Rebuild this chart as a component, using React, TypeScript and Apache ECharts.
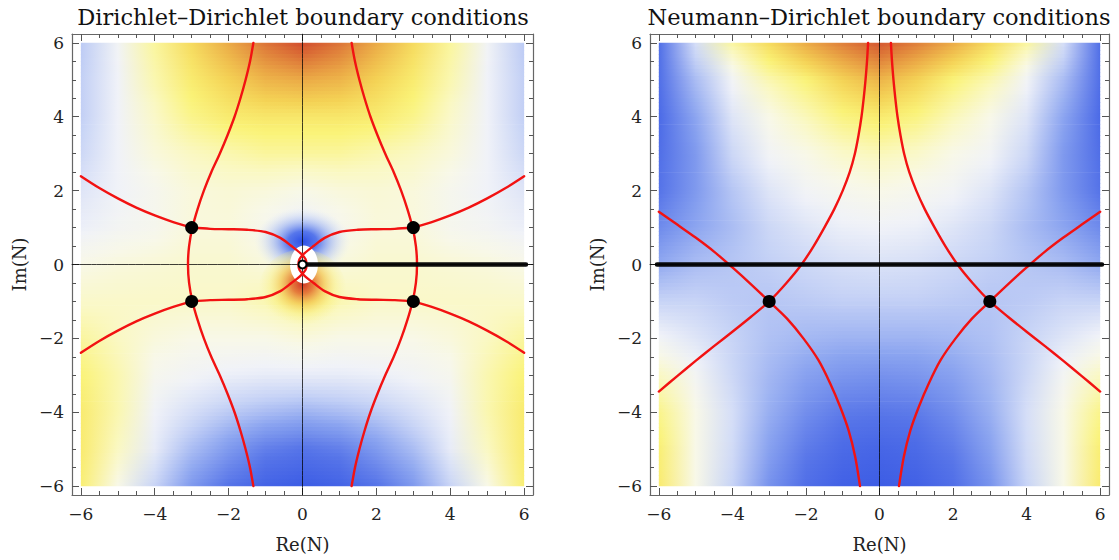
import React, { useEffect, useRef } from "react";
import * as echarts from "echarts";

const FONT = '"DejaVu Serif", serif';

// grid coordinates of the sampled colour field
const fieldXs = [-6, -5, -4, -3, -2, -1, 0, 1, 2, 3, 4, 5, 6];
const fieldYs = [6, 5, 4, 3, 2, 1, 0, -1, -2, -3, -4, -5, -6];

// Dirichlet-Dirichlet field (rows y=6 .. -6, columns x=-6 .. 6), 0=blue .. 1=red
const ddField = [
  [0.33, 0.45, 0.6, 0.7, 0.8, 0.9, 0.97, 0.9, 0.8, 0.7, 0.6, 0.45, 0.33],
  [0.34, 0.44, 0.58, 0.66, 0.72, 0.78, 0.8, 0.78, 0.72, 0.66, 0.58, 0.44, 0.34],
  [0.34, 0.44, 0.55, 0.62, 0.66, 0.67, 0.67, 0.67, 0.66, 0.62, 0.55, 0.44, 0.34],
  [0.36, 0.44, 0.52, 0.56, 0.58, 0.6, 0.6, 0.6, 0.58, 0.56, 0.52, 0.44, 0.36],
  [0.4, 0.44, 0.48, 0.52, 0.53, 0.52, 0.5, 0.52, 0.53, 0.52, 0.48, 0.44, 0.4],
  [0.43, 0.46, 0.48, 0.52, 0.52, 0.48, 0.42, 0.48, 0.52, 0.52, 0.48, 0.46, 0.43],
  [0.5, 0.52, 0.53, 0.54, 0.54, 0.52, 0.48, 0.52, 0.54, 0.54, 0.53, 0.52, 0.5],
  [0.55, 0.55, 0.55, 0.55, 0.55, 0.58, 0.62, 0.58, 0.55, 0.55, 0.55, 0.55, 0.55],
  [0.6, 0.56, 0.52, 0.5, 0.5, 0.5, 0.52, 0.5, 0.5, 0.5, 0.52, 0.56, 0.6],
  [0.64, 0.58, 0.48, 0.45, 0.43, 0.42, 0.42, 0.42, 0.43, 0.45, 0.48, 0.58, 0.64],
  [0.66, 0.58, 0.44, 0.38, 0.33, 0.3, 0.28, 0.3, 0.33, 0.38, 0.44, 0.58, 0.66],
  [0.66, 0.56, 0.42, 0.3, 0.22, 0.15, 0.12, 0.15, 0.22, 0.3, 0.42, 0.56, 0.66],
  [0.65, 0.5, 0.35, 0.22, 0.12, 0.05, 0.02, 0.05, 0.12, 0.22, 0.35, 0.5, 0.65],
];

// Neumann-Dirichlet field
const ndField = [
  [0.1, 0.38, 0.6, 0.7, 0.8, 0.88, 0.95, 0.88, 0.8, 0.7, 0.6, 0.38, 0.1],
  [0.1, 0.3, 0.45, 0.58, 0.64, 0.72, 0.78, 0.72, 0.64, 0.58, 0.45, 0.3, 0.1],
  [0.08, 0.25, 0.4, 0.5, 0.57, 0.63, 0.66, 0.63, 0.57, 0.5, 0.4, 0.25, 0.08],
  [0.1, 0.22, 0.36, 0.45, 0.5, 0.55, 0.57, 0.55, 0.5, 0.45, 0.36, 0.22, 0.1],
  [0.12, 0.22, 0.32, 0.4, 0.45, 0.48, 0.5, 0.48, 0.45, 0.4, 0.32, 0.22, 0.12],
  [0.18, 0.25, 0.3, 0.36, 0.4, 0.43, 0.44, 0.43, 0.4, 0.36, 0.3, 0.25, 0.18],
  [0.26, 0.3, 0.32, 0.34, 0.36, 0.38, 0.39, 0.38, 0.36, 0.34, 0.32, 0.3, 0.26],
  [0.35, 0.35, 0.33, 0.32, 0.33, 0.34, 0.34, 0.34, 0.33, 0.32, 0.33, 0.35, 0.35],
  [0.45, 0.4, 0.35, 0.31, 0.29, 0.28, 0.28, 0.28, 0.29, 0.31, 0.35, 0.4, 0.45],
  [0.56, 0.46, 0.36, 0.29, 0.24, 0.21, 0.2, 0.21, 0.24, 0.29, 0.36, 0.46, 0.56],
  [0.62, 0.5, 0.38, 0.27, 0.19, 0.14, 0.13, 0.14, 0.19, 0.27, 0.38, 0.5, 0.62],
  [0.65, 0.5, 0.37, 0.24, 0.14, 0.08, 0.06, 0.08, 0.14, 0.24, 0.37, 0.5, 0.65],
  [0.66, 0.5, 0.35, 0.2, 0.1, 0.04, 0.02, 0.04, 0.1, 0.2, 0.35, 0.5, 0.66],
];

// Dirichlet-Dirichlet contour curves
const ddLeftVertical = [[-1.33, 6], [-1.42, 5.5], [-1.54, 5], [-1.68, 4.5], [-1.84, 4], [-2.03, 3.5], [-2.24, 3], [-2.47, 2.5], [-2.67, 2], [-2.84, 1.5], [-2.98, 1], [-3.07, 0.5], [-3.1, 0], [-3.07, -0.5], [-2.98, -1], [-2.84, -1.5], [-2.67, -2], [-2.47, -2.5], [-2.24, -3], [-2.03, -3.5], [-1.84, -4], [-1.68, -4.5], [-1.54, -5], [-1.42, -5.5], [-1.33, -6]];
const ddRightVertical = [[1.33, 6], [1.42, 5.5], [1.54, 5], [1.68, 4.5], [1.84, 4], [2.03, 3.5], [2.24, 3], [2.47, 2.5], [2.67, 2], [2.84, 1.5], [2.98, 1], [3.07, 0.5], [3.1, 0], [3.07, -0.5], [2.98, -1], [2.84, -1.5], [2.67, -2], [2.47, -2.5], [2.24, -3], [2.03, -3.5], [1.84, -4], [1.68, -4.5], [1.54, -5], [1.42, -5.5], [1.33, -6]];
const ddLeftUpperOuter = [[-6, 2.39], [-5.5, 2.07], [-5, 1.79], [-4.5, 1.54], [-4, 1.33], [-3.5, 1.15], [-3, 1]];
const ddLeftLowerOuter = [[-6, -2.39], [-5.5, -2.07], [-5, -1.79], [-4.5, -1.54], [-4, -1.33], [-3.5, -1.15], [-3, -1]];
const ddRightUpperOuter = [[6, 2.39], [5.5, 2.07], [5, 1.79], [4.5, 1.54], [4, 1.33], [3.5, 1.15], [3, 1]];
const ddRightLowerOuter = [[6, -2.39], [5.5, -2.07], [5, -1.79], [4.5, -1.54], [4, -1.33], [3.5, -1.15], [3, -1]];
const ddLeftInner = [[-3, 1], [-2.5, 0.965], [-2, 0.955], [-1.5, 0.94], [-1, 0.88], [-0.6, 0.72], [-0.3, 0.5], [-0.05, 0.3], [0.08, 0.15], [0.11, 0], [0.08, -0.15], [-0.05, -0.3], [-0.3, -0.5], [-0.6, -0.72], [-1, -0.88], [-1.5, -0.94], [-2, -0.955], [-2.5, -0.965], [-3, -1]];
const ddRightInner = [[3, 1], [2.5, 0.965], [2, 0.955], [1.5, 0.94], [1, 0.88], [0.6, 0.72], [0.3, 0.5], [0.05, 0.3], [-0.08, 0.15], [-0.11, 0], [-0.08, -0.15], [0.05, -0.3], [0.3, -0.5], [0.6, -0.72], [1, -0.88], [1.5, -0.94], [2, -0.955], [2.5, -0.965], [3, -1]];
const ddSaddles = [[-3, 1], [3, 1], [-3, -1], [3, -1]];
const ddPole = [[0, 0]];
const ddCut = [[0.1, 0], [6.05, 0]];

// Neumann-Dirichlet contour curves
const ndLeftA = [[-0.31, 6], [-0.34, 5.5], [-0.38, 5], [-0.43, 4.5], [-0.49, 4], [-0.57, 3.5], [-0.67, 3], [-0.81, 2.5], [-1.0, 2], [-1.23, 1.5], [-1.5, 1], [-1.79, 0.5], [-2.12, 0], [-2.53, -0.5], [-3, -1], [-3.5, -1.42], [-4, -1.82], [-4.5, -2.21], [-5, -2.61], [-5.5, -3.02], [-6, -3.44]];
const ndLeftB = [[-6, 1.43], [-5.5, 1.08], [-5, 0.73], [-4.5, 0.35], [-4, -0.08], [-3.5, -0.53], [-3, -1], [-2.52, -1.46], [-2.07, -2.0], [-1.66, -2.59], [-1.34, -3.22], [-1.07, -3.85], [-0.84, -4.49], [-0.66, -5.21], [-0.53, -6]];
const ndRightA = [[0.31, 6], [0.34, 5.5], [0.38, 5], [0.43, 4.5], [0.49, 4], [0.57, 3.5], [0.67, 3], [0.81, 2.5], [1.0, 2], [1.23, 1.5], [1.5, 1], [1.79, 0.5], [2.12, 0], [2.53, -0.5], [3, -1], [3.5, -1.42], [4, -1.82], [4.5, -2.21], [5, -2.61], [5.5, -3.02], [6, -3.44]];
const ndRightB = [[6, 1.43], [5.5, 1.08], [5, 0.73], [4.5, 0.35], [4, -0.08], [3.5, -0.53], [3, -1], [2.52, -1.46], [2.07, -2.0], [1.66, -2.59], [1.34, -3.22], [1.07, -3.85], [0.84, -4.49], [0.66, -5.21], [0.53, -6]];
const ndSaddles = [[-3, -1], [3, -1]];
const ndCut = [[-6.05, 0], [6.05, 0]];

// tick values
const majorTicks = [-6, -4, -2, 0, 2, 4, 6];
const minorTicks = [-5.5, -5, -4.5, -3.5, -3, -2.5, -1.5, -1, -0.5, 0.5, 1, 1.5, 2.5, 3, 3.5, 4.5, 5, 5.5];
const titles = ["Dirichlet\u2013Dirichlet boundary conditions", "Neumann\u2013Dirichlet boundary conditions"];

// colour map stops (value, rgb)
const cmapStops: [number, number[]][] = [
  [0.0, [55, 88, 228]],
  [0.12, [85, 115, 232]],
  [0.25, [140, 165, 240]],
  [0.35, [200, 212, 246]],
  [0.44, [240, 242, 248]],
  [0.5, [248, 248, 232]],
  [0.56, [250, 248, 195]],
  [0.64, [250, 243, 120]],
  [0.72, [244, 210, 85]],
  [0.8, [235, 170, 70]],
  [0.9, [220, 115, 55]],
  [1.0, [205, 58, 42]],
];

function cmap(v: number): string {
  const t = Math.max(0, Math.min(1, v));
  for (let i = 1; i < cmapStops.length; i++) {
    const [v1, c1] = cmapStops[i];
    const [v0, c0] = cmapStops[i - 1];
    if (t <= v1) {
      const f = (t - v0) / (v1 - v0);
      const c = c0.map((a, k) => Math.round(a + (c1[k] - a) * f));
      return `rgb(${c[0]},${c[1]},${c[2]})`;
    }
  }
  const c = cmapStops[cmapStops.length - 1][1];
  return `rgb(${c[0]},${c[1]},${c[2]})`;
}

const LIM = 6.24;
const fmt = (v: number) => (v < 0 ? "\u2212" + -v : String(v));

function fieldSeries(rows: number[][], xi: number, yi: number) {
  const S = 10;
  const nb = fieldYs.length - 1;
  const data: number[][] = [];
  for (let k = 0; k < nb * S; k++) data.push([0, 0, k]);
  const nx = fieldXs.length - 1;
  return {
    type: "custom",
    xAxisIndex: xi,
    yAxisIndex: yi,
    silent: true,
    z: 1,
    encode: { x: 0, y: 1 },
    data,
    renderItem: (_params: any, api: any) => {
      const k = api.value(2);
      const b = Math.floor(k / S);
      const s = k % S;
      const yTop = fieldYs[b];
      const yBot = fieldYs[b + 1];
      const t0 = s / S;
      const t1 = (s + 1) / S;
      const ya = yTop + (yBot - yTop) * t0;
      const yb = yTop + (yBot - yTop) * t1;
      const tm = (t0 + t1) / 2;
      const p0 = api.coord([fieldXs[0], ya]);
      const p1 = api.coord([fieldXs[nx], yb]);
      const stops = rows[b].map((v, i) => ({
        offset: i / nx,
        color: cmap(v + (rows[b + 1][i] - v) * tm),
      }));
      const last = b === nb - 1 && s === S - 1;
      return {
        type: "rect",
        shape: { x: p0[0], y: p0[1], width: p1[0] - p0[0], height: p1[1] - p0[1] + (last ? 0 : 0.7) },
        style: { fill: new echarts.graphic.LinearGradient(0, 0, 1, 0, stops) },
      };
    },
  };
}

function axisPair(g: number, dir: "x" | "y") {
  const labelled = {
    gridIndex: g,
    type: "value",
    min: -LIM,
    max: LIM,
    position: dir === "x" ? "bottom" : "left",
    name: dir === "x" ? "Re(N)" : "Im(N)",
    nameLocation: "middle",
    nameGap: dir === "x" ? 40 : 44,
    nameTextStyle: { fontFamily: FONT, fontSize: 18, color: "#222" },
    axisLine: { show: true, onZero: false, lineStyle: { color: "#666", width: 1.2 } },
    axisTick: { show: true, inside: true, length: 7, customValues: majorTicks, lineStyle: { color: "#555", width: 1 } },
    axisLabel: { show: true, customValues: majorTicks, formatter: fmt, fontFamily: FONT, fontSize: 17, color: "#222", margin: dir === "x" ? 10 : 8 },
    splitLine: { show: false },
  };
  const mk = (pos: string, major: boolean, line: boolean) => ({
    gridIndex: g,
    type: "value",
    min: -LIM,
    max: LIM,
    position: pos,
    axisLine: { show: line, onZero: false, lineStyle: { color: "#666", width: 1.2 } },
    axisTick: { show: true, inside: true, length: major ? 7 : 4, customValues: major ? majorTicks : minorTicks, lineStyle: { color: "#555", width: 1 } },
    axisLabel: { show: false },
    splitLine: { show: false },
  });
  const a = dir === "x" ? "bottom" : "left";
  const o = dir === "x" ? "top" : "right";
  return [labelled, mk(a, false, false), mk(o, true, true), mk(o, false, false)];
}

function lineSeries(data: number[][], xi: number, yi: number, color: string, width: number, z: number) {
  return {
    type: "line",
    xAxisIndex: xi,
    yAxisIndex: yi,
    data,
    symbol: "none",
    showSymbol: false,
    smooth: 0.3,
    silent: true,
    z,
    lineStyle: { color, width, cap: "round", join: "round" },
  };
}

export default function App() {
  const ref = useRef<HTMLDivElement>(null);
  useEffect(() => {
    if (!ref.current) return;
    const chart = echarts.init(ref.current, undefined, { renderer: "svg" });
    const RED = "rgb(242,18,18)";
    const LW = 2.4;
    const xAxis = [...axisPair(0, "x"), ...axisPair(1, "x")];
    const yAxis = [...axisPair(0, "y"), ...axisPair(1, "y")];
    const series: any[] = [];
    // left plot (axes index 0)
    series.push(fieldSeries(ddField, 0, 0));
    series.push({
      type: "scatter", xAxisIndex: 0, yAxisIndex: 0, silent: true, z: 2,
      data: [[0, 0.62]], symbol: "circle", symbolSize: [96, 68],
      itemStyle: {
        opacity: 1,
        color: { type: "radial", x: 0.5, y: 0.5, r: 0.5, colorStops: [
          { offset: 0, color: "rgba(45,80,230,1)" },
          { offset: 0.3, color: "rgba(70,105,234,0.9)" },
          { offset: 0.6, color: "rgba(145,170,242,0.55)" },
          { offset: 1, color: "rgba(220,230,250,0)" },
        ] },
      },
    });
    series.push({
      type: "scatter", xAxisIndex: 0, yAxisIndex: 0, silent: true, z: 2,
      data: [[0, -0.7]], symbol: "circle", symbolSize: [88, 82],
      itemStyle: {
        opacity: 1,
        color: { type: "radial", x: 0.5, y: 0.42, r: 0.5, colorStops: [
          { offset: 0, color: "rgba(210,55,38,1)" },
          { offset: 0.25, color: "rgba(228,120,55,0.95)" },
          { offset: 0.5, color: "rgba(242,195,75,0.7)" },
          { offset: 0.75, color: "rgba(248,235,115,0.35)" },
          { offset: 1, color: "rgba(248,240,150,0)" },
        ] },
      },
    });
    series.push({
      type: "scatter", xAxisIndex: 0, yAxisIndex: 0, silent: true, z: 3,
      data: [[0.04, 0]], symbol: "circle", symbolSize: [28, 38],
      itemStyle: { color: "#ffffff", opacity: 1 },
    });
    series.push(lineSeries([[0, -LIM], [0, LIM]], 0, 0, "rgba(0,0,0,0.75)", 1, 4));
    series.push(lineSeries([[-LIM, 0], [LIM, 0]], 0, 0, "rgba(0,0,0,0.75)", 1, 4));
    [ddLeftVertical, ddRightVertical, ddLeftUpperOuter, ddLeftLowerOuter, ddRightUpperOuter, ddRightLowerOuter, ddLeftInner, ddRightInner].forEach((d) =>
      series.push(lineSeries(d, 0, 0, RED, LW, 5))
    );
    series.push({ ...lineSeries(ddCut, 0, 0, "rgba(0,0,0,0.95)", 4.5, 6), smooth: false });
    series.push({
      type: "scatter", xAxisIndex: 0, yAxisIndex: 0, silent: true, z: 7,
      data: ddSaddles, symbol: "circle", symbolSize: 13, itemStyle: { color: "#000", opacity: 1 },
    });
    series.push({
      type: "scatter", xAxisIndex: 0, yAxisIndex: 0, silent: true, z: 8,
      data: ddPole, symbol: "circle", symbolSize: 8,
      itemStyle: { color: "#fff", borderColor: "#000", borderWidth: 2, opacity: 1 },
    });
    // right plot (axes index 4)
    series.push(fieldSeries(ndField, 4, 4));
    series.push(lineSeries([[0, -LIM], [0, LIM]], 4, 4, "rgba(0,0,0,0.75)", 1, 4));
    series.push(lineSeries([[-LIM, 0], [LIM, 0]], 4, 4, "rgba(0,0,0,0.75)", 1, 4));
    [ndLeftA, ndLeftB, ndRightA, ndRightB].forEach((d) => series.push(lineSeries(d, 4, 4, RED, LW, 5)));
    series.push({ ...lineSeries(ndCut, 4, 4, "rgba(0,0,0,0.95)", 4.5, 6), smooth: false });
    series.push({
      type: "scatter", xAxisIndex: 4, yAxisIndex: 4, silent: true, z: 7,
      data: ndSaddles, symbol: "circle", symbolSize: 13, itemStyle: { color: "#000", opacity: 1 },
    });

    chart.setOption({
      animation: false,
      backgroundColor: "#ffffff",
      textStyle: { fontFamily: FONT },
      grid: [
        { left: 72, top: 34, width: 461, height: 461 },
        { left: 650, top: 34, width: 459, height: 461 },
      ],
      xAxis,
      yAxis,
      graphic: [
        { type: "text", x: 303, y: 17, style: { text: titles[0], fontFamily: FONT, fontSize: 22.5, fill: "#111", textAlign: "center", textVerticalAlign: "middle" } },
        { type: "text", x: 879, y: 17, style: { text: titles[1], fontFamily: FONT, fontSize: 22.5, fill: "#111", textAlign: "center", textVerticalAlign: "middle" } },
      ],
      series,
    });
    return () => chart.dispose();
  }, []);
  return <div ref={ref} style={{ position: "fixed", left: 0, top: 0, width: 1119, height: 560, background: "#fff" }} />;
}
